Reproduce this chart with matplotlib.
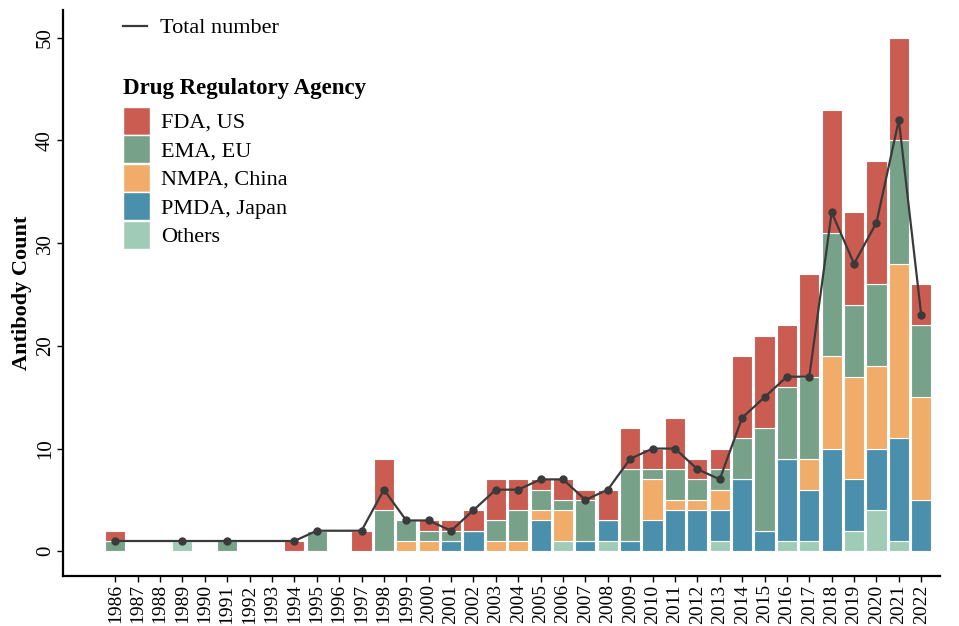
import numpy as np
import matplotlib.pyplot as plt
from matplotlib.patches import Patch
from matplotlib.lines import Line2D

plt.rcParams["font.family"] = ["Liberation Serif", "DejaVu Serif"]

years = list(range(1986, 2023))

# approvals per agency per year (stack order bottom -> top: Others, PMDA, NMPA, EMA, FDA)
others = [0, 0, 0, 1, 0, 0, 0, 0, 0, 0, 0, 0, 0, 0, 0, 0, 0, 0, 0, 0, 1, 0, 1, 0,
          0, 0, 0, 1, 0, 0, 1, 1, 0, 2, 4, 1, 0]
pmda = [0, 0, 0, 0, 0, 0, 0, 0, 0, 0, 0, 0, 0, 0, 0, 1, 2, 0, 0, 3, 0, 1, 2, 1,
        3, 4, 4, 3, 7, 2, 8, 5, 10, 5, 6, 10, 5]
nmpa = [0, 0, 0, 0, 0, 0, 0, 0, 0, 0, 0, 0, 0, 1, 1, 0, 0, 1, 1, 1, 3, 0, 0, 0,
        4, 1, 1, 2, 0, 0, 0, 3, 9, 10, 8, 17, 10]
ema = [1, 0, 0, 0, 0, 1, 0, 0, 0, 2, 0, 0, 4, 2, 1, 1, 0, 2, 3, 2, 1, 4, 0, 7,
       1, 3, 2, 2, 4, 10, 7, 8, 12, 7, 8, 12, 7]
fda = [1, 0, 0, 0, 0, 0, 0, 0, 1, 0, 0, 2, 5, 0, 1, 1, 2, 4, 3, 1, 2, 1, 3, 4,
       2, 5, 2, 2, 8, 9, 6, 10, 12, 9, 12, 10, 4]

# total number of distinct antibodies (line), only years with approvals
total_years = [1986, 1989, 1991, 1994, 1995, 1997, 1998, 1999, 2000, 2001, 2002,
               2003, 2004, 2005, 2006, 2007, 2008, 2009, 2010, 2011, 2012, 2013,
               2014, 2015, 2016, 2017, 2018, 2019, 2020, 2021, 2022]
total_number = [1, 1, 1, 1, 2, 2, 6, 3, 3, 2, 4, 6, 6, 7, 7, 5, 6, 9, 10, 10, 8, 7,
                13, 15, 17, 17, 33, 28, 32, 42, 23]

series = [("Others", others, "#a0cbb7"),
          ("PMDA, Japan", pmda, "#4a8fab"),
          ("NMPA, China", nmpa, "#f0ac68"),
          ("EMA, EU", ema, "#78a18a"),
          ("FDA, US", fda, "#cb5c51")]

fig = plt.figure(figsize=(9.59, 6.26), dpi=100)
ax = fig.add_axes([0.066, 0.080, 0.914, 0.904])

x = np.arange(len(years))
bottom = np.zeros(len(years))
for name, vals, col in series:
    vals = np.array(vals)
    ax.bar(x, vals, bottom=bottom, width=0.9, color=col, edgecolor="white",
           linewidth=0.8)
    bottom += vals

tx = [years.index(y) for y in total_years]
ax.plot(tx, total_number, color="#3a3a3a", lw=1.6, marker="o", ms=5)

ax.set_xlim(-2.32, 36.83)
ax.set_ylim(-2.4, 52.7)
ax.set_xticks(x)
ax.set_xticklabels([str(y) for y in years], rotation=90, fontsize=14)
ax.set_yticks([0, 10, 20, 30, 40, 50])
ax.set_yticklabels(["0", "10", "20", "30", "40", "50"], rotation=90,
                   va="center", fontsize=15)
ax.set_ylabel("Antibody Count", fontsize=16, fontweight="bold", labelpad=3)

for s in ["top", "right"]:
    ax.spines[s].set_visible(False)
for s in ["left", "bottom"]:
    ax.spines[s].set_linewidth(1.6)
ax.tick_params(length=4, width=1, pad=2)

# legends
line_leg = ax.legend([Line2D([0], [0], color="#3a3a3a", lw=1.6)],
                     ["Total number"], loc="upper left",
                     bbox_to_anchor=(0.068, 0.986), frameon=False, fontsize=16,
                     handlelength=1.1, handletextpad=0.55, borderpad=0,
                     borderaxespad=0)
ax.add_artist(line_leg)

ax.text(0.068, 0.862, "Drug Regulatory Agency", transform=ax.transAxes,
        fontsize=16.5, fontweight="bold", ha="left", va="center")

handles = [Patch(facecolor=col, edgecolor="white") for _, _, col in series[::-1]]
labels = [name for name, _, _ in series[::-1]]
leg = ax.legend(handles, labels, loc="upper left", bbox_to_anchor=(0.068, 0.829),
                frameon=False, fontsize=16,
                handlelength=1.2, handleheight=1.55, labelspacing=0.03,
                handletextpad=0.5, borderpad=0, borderaxespad=0)

fig.savefig("out.png", dpi=100)
